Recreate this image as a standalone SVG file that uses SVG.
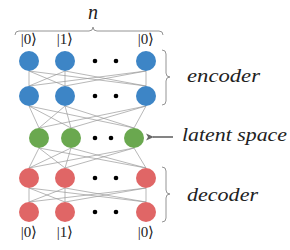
<svg xmlns="http://www.w3.org/2000/svg" width="290" height="250" viewBox="0 0 290 250">
<style>
.e{stroke:#999;stroke-width:0.7;fill:none}
.b{fill:#3d85c6}.g{fill:#6aa84f}.r{fill:#e06666}
.br{stroke:#888;stroke-width:0.9;fill:none}
.ket{font-family:"Liberation Serif",serif;font-size:15px;fill:#222;text-anchor:middle}
.lab{font-family:"Liberation Serif",serif;font-style:italic;font-size:19px;fill:#222}
</style>
<defs>
<marker id="ah" markerWidth="8" markerHeight="8" refX="1" refY="4" orient="auto" markerUnits="userSpaceOnUse">
<path d="M8,0.5 L0,4 L8,7.5 L6,4 Z" fill="#666"/>
</marker>
</defs>
<rect width="290" height="250" fill="#fff"/>
<g id="connectors">
<path class="e" d="M29,71L29,86M29,71L65,86M29,71L146,86M65,71L29,86M65,71L65,86M65,71L146,86M146,71L29,86M146,71L65,86M146,71L146,86"/>
<path class="e" d="M29,106L39,128M29,106L71,128M29,106L134,128M65,106L39,128M65,106L71,128M65,106L134,128M146,106L39,128M146,106L71,128M146,106L134,128"/>
<path class="e" d="M39,148L29,168M39,148L65,168M39,148L146,168M71,148L29,168M71,148L65,168M71,148L146,168M134,148L29,168M134,148L65,168M134,148L146,168"/>
<path class="e" d="M29,188L29,202M29,188L65,202M29,188L146,202M65,188L29,202M65,188L65,202M65,188L146,202M146,188L29,202M146,188L65,202M146,188L146,202"/>
<line x1="173" y1="137" x2="153" y2="137" stroke="#666" stroke-width="1.6" marker-end="url(#ah)"/>
</g>
<g id="enc1"><circle class="b" cx="29" cy="61" r="10"/><circle class="b" cx="65" cy="61" r="10"/><circle class="b" cx="146" cy="61" r="10"/><circle cx="95" cy="61" r="2.3"/><circle cx="116" cy="61" r="2.3"/></g>
<g id="enc2"><circle class="b" cx="29" cy="96" r="10"/><circle class="b" cx="65" cy="96" r="10"/><circle class="b" cx="146" cy="96" r="10"/><circle cx="95" cy="96" r="2.3"/><circle cx="116" cy="96" r="2.3"/></g>
<g id="latent"><circle class="g" cx="39" cy="138" r="10"/><circle class="g" cx="71" cy="138" r="10"/><circle class="g" cx="134" cy="138" r="10"/><circle cx="95" cy="138" r="2.3"/><circle cx="111" cy="138" r="2.3"/></g>
<g id="dec1"><circle class="r" cx="29" cy="178" r="10"/><circle class="r" cx="65" cy="178" r="10"/><circle class="r" cx="146" cy="178" r="10"/><circle cx="95" cy="178" r="2.3"/><circle cx="116" cy="178" r="2.3"/></g>
<g id="dec2"><circle class="r" cx="29" cy="212" r="10"/><circle class="r" cx="65" cy="212" r="10"/><circle class="r" cx="146" cy="212" r="10"/><circle cx="95" cy="212" r="2.3"/><circle cx="116" cy="212" r="2.3"/></g>
<g id="top-labels">
<text class="ket" x="29" y="44">|0⟩</text><text class="ket" x="65" y="44">|1⟩</text><text class="ket" x="146" y="44">|0⟩</text>
<path class="br" d="M15,35 Q15,31 19,31 L89,31 Q93,31 93,27 Q93,31 97,31 L159,31 Q163,31 163,35"/>
<text x="93" y="19" style="font-family:'Liberation Serif',serif;font-style:italic;font-size:20px;fill:#222;text-anchor:middle">n</text>
</g>
<g id="bottom-labels">
<text class="ket" x="29" y="237">|0⟩</text><text class="ket" x="65" y="237">|1⟩</text><text class="ket" x="146" y="237">|0⟩</text>
</g>
<g id="encoder-label">
<path class="br" d="M162,50 Q166,50 166,54 L166,73 Q166,77 170,77 Q166,77 166,81 L166,101 Q166,105 162,105"/>
<text class="lab" x="187" y="82" textLength="73" lengthAdjust="spacingAndGlyphs">encoder</text>
</g>
<g id="latent-label">
<text class="lab" x="182" y="141" textLength="105" lengthAdjust="spacingAndGlyphs">latent space</text>
</g>
<g id="decoder-label">
<path class="br" d="M162,167 Q166,167 166,171 L166,190 Q166,194 170,194 Q166,194 166,198 L166,218 Q166,222 162,222"/>
<text class="lab" x="187" y="201" textLength="71" lengthAdjust="spacingAndGlyphs">decoder</text>
</g>
</svg>
